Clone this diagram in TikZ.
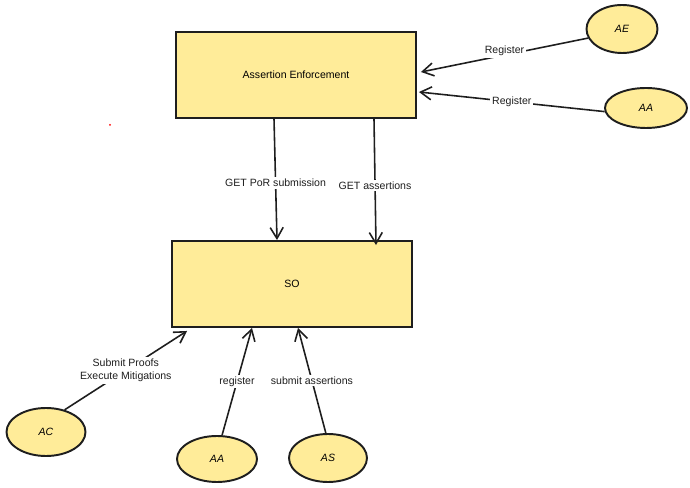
\documentclass[tikz,border=0pt]{standalone}
\usepackage{fontspec}
\setmainfont{Liberation Sans}
\usetikzlibrary{arrows.meta, positioning, shapes.geometric, calc}
\definecolor{notefill}{RGB}{255, 236, 153}
\definecolor{inkline}{RGB}{30, 30, 30}

\begin{document}
\begin{tikzpicture}[
      service/.style={rectangle, draw=inkline, fill=notefill, line width=1.1pt, minimum width=4.8cm, minimum height=1.72cm, align=center, font=\fontsize{6}{7}\selectfont},
      actor/.style={ellipse, draw=inkline, fill=notefill, line width=1.1pt, inner sep=0pt, font=\fontsize{6}{7}\selectfont\itshape},
      call/.style={-{Straight Barb[length=2.2mm, width=2.6mm]}, line width=0.9pt, inkline},
      tag/.style={fill=white, inner sep=1pt, font=\fontsize{6}{7.5}\selectfont, align=center}
    ]
      \useasboundingbox (0, 0) rectangle (13.8, 9.76);

      \node[service] (enf) at (5.92, 8.26) {Assertion Enforcement};
      \node[service] (so) at (5.84, 4.08) {SO};

      \node[actor, minimum width=1.42cm, minimum height=0.96cm] (AE) at (12.44, 9.18) {AE};
      \node[actor, minimum width=1.64cm, minimum height=0.8cm] (AAr) at (12.92, 7.6) {AA};
      \node[actor, minimum width=1.58cm, minimum height=0.96cm] (AC) at (0.92, 1.12) {AC};
      \node[actor, minimum width=1.6cm, minimum height=0.92cm] (AAb) at (4.34, 0.58) {AA};
      \node[actor, minimum width=1.56cm, minimum height=0.96cm] (AS) at (6.56, 0.6) {AS};

      % registrations into the enforcement box
      \draw[call] (AE.195) -- ([xshift=0.8mm, yshift=0.6mm]enf.east) node[tag, midway, yshift=0.8mm] {Register};
      \draw[call] (AAr.185) -- ([xshift=0.4mm, yshift=-3.4mm]enf.east) node[tag, midway] {Register};

      % queries down to SO
      \draw[call] ([xshift=-4.4mm]enf.south) -- ([xshift=-3mm]so.north) node[tag, pos=0.53] {GET PoR submission};
      \draw[call] ([xshift=15.6mm]enf.south) -- ([xshift=16.8mm, yshift=-1mm]so.north) node[tag, pos=0.53] {GET assertions};

      % actors calling SO
      \draw[call] (AC.50) -- ([xshift=3.2mm, yshift=-0.6mm]so.south west) node[tag, midway] {Submit Proofs\\Execute Mitigations};
      \draw[call] (AAb.78) -- ([xshift=-8mm]so.south) node[tag, midway] {register};
      \draw[call] (AS.95) -- ([xshift=1.2mm]so.south) node[tag, midway] {submit assertions};

      \fill[red] (2.2, 7.26) circle (0.02);
    \end{tikzpicture}
\end{document}
